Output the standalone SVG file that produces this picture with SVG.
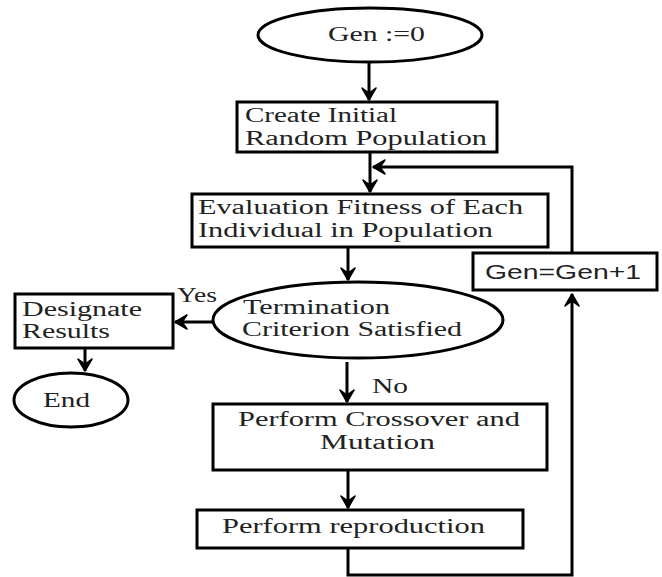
<svg xmlns="http://www.w3.org/2000/svg" width="662" height="577" viewBox="0 0 662 577">
<style>
.shape{fill:#fff;stroke:#000;stroke-width:3}
.con{fill:none;stroke:#000;stroke-width:3}
.t{font-family:"Liberation Serif","Times New Roman",serif;font-size:20px;fill:#222}
.s{font-family:"Liberation Sans",Arial,sans-serif;font-size:21px;fill:#222}
</style>
<defs>
<marker id="ah" viewBox="-14 -8 16 16" refX="0" refY="0" markerWidth="16" markerHeight="16" markerUnits="userSpaceOnUse" orient="auto" overflow="visible">
<path d="M0,0 L-12,-7 L-7,0 L-12,7 Z" fill="#000" stroke="#000" stroke-width="1.5" stroke-linejoin="round"/>
</marker>
</defs>
<rect width="662" height="577" fill="#fff"/>
<g id="connectors">
<path class="con" d="M369,62 V100" marker-end="url(#ah)"/>
<path class="con" d="M370,152 V192" marker-end="url(#ah)"/>
<path class="con" d="M572,253 V167 H373" marker-end="url(#ah)"/>
<path class="con" d="M348,247 V280" marker-end="url(#ah)"/>
<path class="con" d="M213,322 H175" marker-end="url(#ah)"/>
<path class="con" d="M85,348 V371" marker-end="url(#ah)"/>
<path class="con" d="M347,362 V402" marker-end="url(#ah)"/>
<path class="con" d="M348,470 V508" marker-end="url(#ah)"/>
<path class="con" d="M348,548 V575 H572 V294" marker-end="url(#ah)"/>
</g>
<g id="start">
<ellipse class="shape" cx="370" cy="35" rx="112" ry="27"/>
<text class="t" x="328" y="41" textLength="97" lengthAdjust="spacingAndGlyphs">Gen :=0</text>
</g>
<g id="create">
<rect class="shape" x="237" y="102" width="260" height="50"/>
<text class="t" x="245" y="122" textLength="152" lengthAdjust="spacingAndGlyphs">Create Initial</text>
<text class="t" x="245" y="145" textLength="242" lengthAdjust="spacingAndGlyphs">Random Population</text>
</g>
<g id="evaluate">
<rect class="shape" x="192" y="194" width="356" height="53"/>
<text class="t" x="198" y="214" textLength="325" lengthAdjust="spacingAndGlyphs">Evaluation Fitness of Each</text>
<text class="t" x="198" y="237" textLength="295" lengthAdjust="spacingAndGlyphs">Individual in Population</text>
</g>
<g id="increment">
<rect class="shape" x="473" y="253" width="184" height="37"/>
<text class="s" x="485" y="279" textLength="156" lengthAdjust="spacingAndGlyphs">Gen=Gen+1</text>
</g>
<g id="termination">
<ellipse class="shape" cx="358" cy="320" rx="145" ry="38"/>
<text class="t" x="243" y="314" textLength="147" lengthAdjust="spacingAndGlyphs">Termination</text>
<text class="t" x="242" y="336" textLength="220" lengthAdjust="spacingAndGlyphs">Criterion Satisfied</text>
</g>
<g id="designate">
<rect class="shape" x="15" y="294" width="158" height="54"/>
<text class="t" x="22" y="316" textLength="120" lengthAdjust="spacingAndGlyphs">Designate</text>
<text class="t" x="22" y="338" textLength="88" lengthAdjust="spacingAndGlyphs">Results</text>
</g>
<g id="end">
<ellipse class="shape" cx="71" cy="400" rx="57" ry="27"/>
<text class="t" x="43" y="407" textLength="47" lengthAdjust="spacingAndGlyphs">End</text>
</g>
<g id="crossover">
<rect class="shape" x="213" y="404" width="334" height="66"/>
<text class="t" x="238" y="426" textLength="282" lengthAdjust="spacingAndGlyphs">Perform Crossover and</text>
<text class="t" x="320" y="449" textLength="115" lengthAdjust="spacingAndGlyphs">Mutation</text>
</g>
<g id="reproduction">
<rect class="shape" x="197" y="510" width="326" height="38"/>
<text class="t" x="222" y="533" textLength="263" lengthAdjust="spacingAndGlyphs">Perform reproduction</text>
</g>
<g id="labels">
<text class="t" x="177" y="302" textLength="40" lengthAdjust="spacingAndGlyphs">Yes</text>
<text class="t" x="372" y="393" textLength="36" lengthAdjust="spacingAndGlyphs">No</text>
</g>
</svg>
